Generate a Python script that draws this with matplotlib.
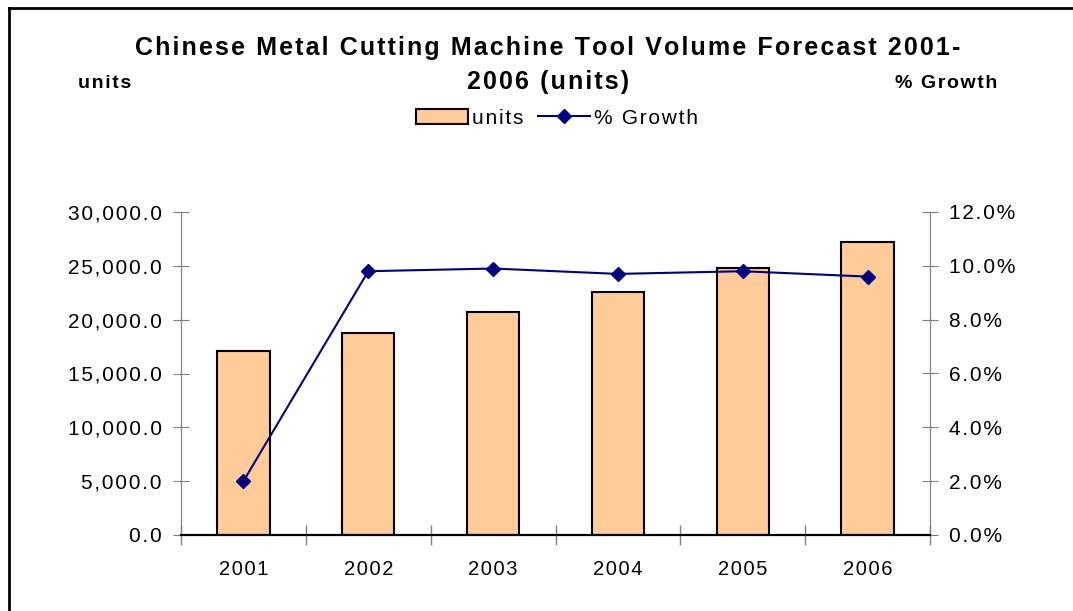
import matplotlib.pyplot as plt
from matplotlib.lines import Line2D
from matplotlib.patches import Patch
from matplotlib.ticker import FuncFormatter, MultipleLocator

plt.rcParams["font.family"] = ["Liberation Sans", "DejaVu Sans"]

years = ["2001", "2002", "2003", "2004", "2005", "2006"]
units = [17100, 18800, 20700, 22600, 24800, 27200]
growth = [2.0, 9.8, 9.9, 9.7, 9.8, 9.6]

title_lines = ["Chinese Metal Cutting Machine Tool Volume Forecast 2001-", "2006 (units)"]

bar_color = "#FFCC99"
line_color = "#000080"
axis_gray = "#808080"


def spaced(s, gap="\u200a"):
    # loose letter spacing like the original Excel chart
    return gap.join(s)


W, H = 1073, 611
fig = plt.figure(figsize=(W / 100, H / 100), dpi=100)
ax = fig.add_axes([181 / W, 1 - 535 / H, (930 - 181) / W, (535 - 212) / H])
ax2 = ax.twinx()

x = list(range(len(years)))
ax.bar(x, units, width=0.42, color=bar_color, edgecolor="black", linewidth=1.5, zorder=2)
ax2.plot(x, growth, color=line_color, marker="D", markersize=7, linewidth=1.5, zorder=3)

ax.set_xlim(-0.5, len(years) - 0.5)
ax.set_ylim(0, 30000)
ax2.set_ylim(0, 12)
ax.yaxis.set_major_locator(MultipleLocator(5000))
ax2.yaxis.set_major_locator(MultipleLocator(2))
ax.yaxis.set_major_formatter(FuncFormatter(lambda v, p: spaced(f"{v:,.1f}")))
ax2.yaxis.set_major_formatter(FuncFormatter(lambda v, p: spaced(f"{v:.1f}%")))

ax.set_xticks(x)
ax.set_xticklabels([spaced(y) for y in years])
ax.set_xticks([i - 0.5 for i in range(len(years) + 1)], minor=True)
ax.tick_params(axis="x", which="major", length=0, labelsize=14.5, pad=18)
ax.tick_params(axis="x", which="minor", length=15, direction="inout", color=axis_gray, width=1)
ax.tick_params(axis="y", length=12, direction="inout", color=axis_gray, labelsize=15, pad=8)
ax2.tick_params(axis="y", length=12, direction="inout", color=axis_gray, labelsize=15, pad=8)

for a in (ax, ax2):
    a.spines["top"].set_visible(False)
    a.spines["left"].set_color(axis_gray)
    a.spines["right"].set_color(axis_gray)
    a.spines["bottom"].set_color("black")
    a.spines["bottom"].set_linewidth(1.5)

fig.text(548 / W, 1 - 48 / H, spaced(title_lines[0]), ha="center", va="center",
         fontsize=18, fontweight="bold")
fig.text(548 / W, 1 - 82 / H, spaced(title_lines[1]), ha="center", va="center",
         fontsize=18, fontweight="bold")
fig.text(105 / W, 1 - 84 / H, spaced("units"), ha="center", va="center", fontsize=14, fontweight="bold")
fig.text(946 / W, 1 - 84 / H, spaced("% Growth"), ha="center", va="center", fontsize=14, fontweight="bold")

handles = [
    Patch(facecolor=bar_color, edgecolor="black", linewidth=1.5, label=spaced("units")),
    Line2D([0], [0], color=line_color, marker="D", markersize=7, linewidth=1.5, label=spaced("% Growth")),
]
fig.legend(handles=handles, loc="center", bbox_to_anchor=(557 / W, 1 - 118 / H), ncol=2,
           frameon=False, fontsize=15, handlelength=2.5, handletextpad=0.2, columnspacing=0.7)

# chart area border (left and top edges visible in the crop)
fig.add_artist(Line2D([9 / W, 9 / W], [0, 1 - 8 / H], color="black", linewidth=2))
fig.add_artist(Line2D([9 / W, 1], [1 - 8 / H, 1 - 8 / H], color="black", linewidth=2))

fig.savefig("out.png", dpi=100)
